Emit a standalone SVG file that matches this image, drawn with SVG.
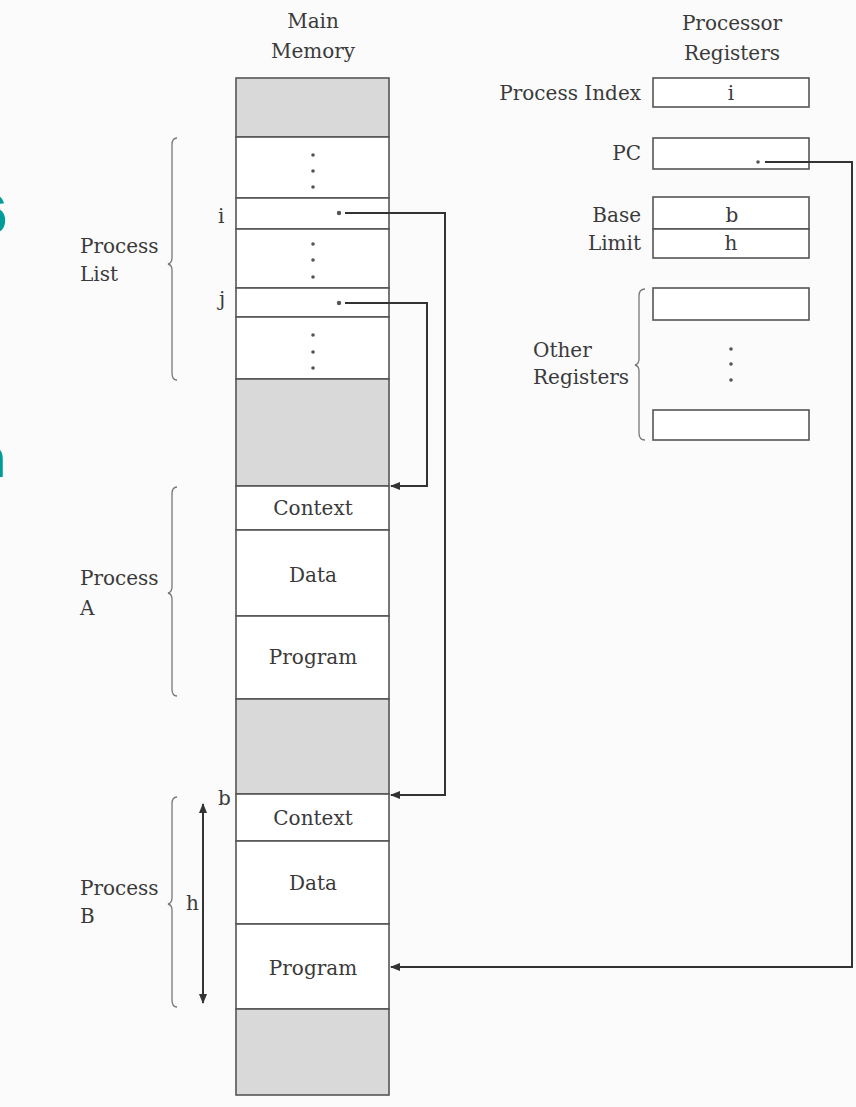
<svg xmlns="http://www.w3.org/2000/svg" width="856" height="1107" viewBox="0 0 856 1107">
<defs>
<style>
text{font-family:"DejaVu Serif","Liberation Serif",serif;font-size:20px;fill:#3a3a3a}
.c{text-anchor:middle}
.r{text-anchor:end}
.cell{fill:#ffffff;stroke:#555;stroke-width:1.6}
.gray{fill:#d9d9d9;stroke:#555;stroke-width:1.6}
.reg{fill:#ffffff;stroke:#555;stroke-width:1.6}
.brace{fill:none;stroke:#777;stroke-width:1.3}
.conn{fill:none;stroke:#333;stroke-width:2}
.dot{fill:#555}
.teal{font-family:"Liberation Sans",sans-serif;font-weight:bold;font-size:56px;fill:#009c9a}
</style>
<marker id="ah" viewBox="0 0 10 10" refX="9" refY="5" markerWidth="5" markerHeight="5" orient="auto-start-reverse" markerUnits="strokeWidth">
<path d="M0,1 L10,5 L0,9 Z" fill="#333"/>
</marker>
</defs>
<rect x="0" y="0" width="856" height="1107" fill="#fbfbfb"/>
<text class="teal" x="-24" y="233">6</text>
<text class="teal" x="-28" y="477">n</text>

<g id="titles">
<text class="c" x="313" y="28">Main</text>
<text class="c" x="313" y="58">Memory</text>
<text class="c" x="732" y="30">Processor</text>
<text class="c" x="732" y="60">Registers</text>
</g>

<g id="main-memory">
<rect class="gray" x="236" y="78" width="153" height="59"/>
<rect class="cell" x="236" y="137" width="153" height="61"/>
<rect class="cell" x="236" y="198" width="153" height="31"/>
<rect class="cell" x="236" y="229" width="153" height="59"/>
<rect class="cell" x="236" y="288" width="153" height="29"/>
<rect class="cell" x="236" y="317" width="153" height="62"/>
<rect class="gray" x="236" y="379" width="153" height="107"/>
<circle class="dot" cx="313" cy="155" r="1.8"/><circle class="dot" cx="313" cy="171" r="1.8"/><circle class="dot" cx="313" cy="187" r="1.8"/>
<circle class="dot" cx="313" cy="244" r="1.8"/><circle class="dot" cx="313" cy="260" r="1.8"/><circle class="dot" cx="313" cy="277" r="1.8"/>
<circle class="dot" cx="313" cy="335" r="1.8"/><circle class="dot" cx="313" cy="352" r="1.8"/><circle class="dot" cx="313" cy="368" r="1.8"/>
<circle class="dot" cx="339" cy="213" r="2.2"/>
<circle class="dot" cx="339" cy="303" r="2.2"/>
<text x="218" y="223">i</text>
<text x="219" y="306">j</text>
</g>

<g id="process-list">
<path class="brace" d="M177,138 Q172,138 172,145 L172,258 Q172,263 168,264 Q172,265 172,270 L172,373 Q172,380 177,380"/>
<text x="80" y="253">Process</text>
<text x="80" y="281">List</text>
</g>

<g id="process-a">
<rect class="cell" x="236" y="486" width="153" height="44"/>
<rect class="cell" x="236" y="530" width="153" height="86"/>
<rect class="cell" x="236" y="616" width="153" height="83"/>
<rect class="gray" x="236" y="699" width="153" height="95"/>
<text class="c" x="313" y="515">Context</text>
<text class="c" x="313" y="582">Data</text>
<text class="c" x="313" y="664">Program</text>
<path class="brace" d="M177,487 Q172,487 172,494 L172,587 Q172,592 168,593 Q172,594 172,599 L172,689 Q172,696 177,696"/>
<text x="80" y="585">Process</text>
<text x="80" y="615">A</text>
</g>

<g id="process-b">
<rect class="cell" x="236" y="794" width="153" height="47"/>
<rect class="cell" x="236" y="841" width="153" height="83"/>
<rect class="cell" x="236" y="924" width="153" height="85"/>
<rect class="gray" x="236" y="1009" width="153" height="86"/>
<text class="c" x="313" y="825">Context</text>
<text class="c" x="313" y="890">Data</text>
<text class="c" x="313" y="975">Program</text>
<path class="brace" d="M177,797 Q172,797 172,804 L172,898 Q172,903 168,904 Q172,905 172,910 L172,1000 Q172,1007 177,1007"/>
<text x="80" y="895">Process</text>
<text x="80" y="923">B</text>
<line class="conn" x1="203" y1="804" x2="203" y2="1003" marker-start="url(#ah)" marker-end="url(#ah)"/>
<text x="218" y="805">b</text>
<text x="186" y="910">h</text>
</g>

<g id="registers">
<rect class="reg" x="653" y="78" width="156" height="29"/>
<text class="c" x="731" y="100">i</text>
<text class="r" x="641" y="100">Process Index</text>
<rect class="reg" x="653" y="138" width="156" height="31"/>
<circle class="dot" cx="758" cy="162" r="1.8"/>
<text class="r" x="641" y="160">PC</text>
<rect class="reg" x="653" y="197" width="156" height="32"/>
<rect class="reg" x="653" y="229" width="156" height="29"/>
<text class="c" x="732" y="222">b</text>
<text class="c" x="731" y="250">h</text>
<text class="r" x="641" y="222">Base</text>
<text class="r" x="641" y="250">Limit</text>
</g>

<g id="other-registers">
<rect class="reg" x="653" y="288" width="156" height="32"/>
<rect class="reg" x="653" y="410" width="156" height="30"/>
<circle class="dot" cx="731" cy="349" r="1.8"/><circle class="dot" cx="731" cy="364" r="1.8"/><circle class="dot" cx="731" cy="380" r="1.8"/>
<path class="brace" d="M645,289 Q639,289 639,296 L639,359 Q639,364 635,365 Q639,366 639,371 L639,433 Q639,440 645,440"/>
<text x="533" y="357">Other</text>
<text x="533" y="384">Registers</text>
</g>

<g id="connectors">
<path class="conn" d="M345,213 L445,213 L445,795 L391,795" marker-end="url(#ah)"/>
<path class="conn" d="M345,303 L427,303 L427,486 L391,486" marker-end="url(#ah)"/>
<path class="conn" d="M765,162 L852,162 L852,967 L391,967" marker-end="url(#ah)"/>
</g>
</svg>
